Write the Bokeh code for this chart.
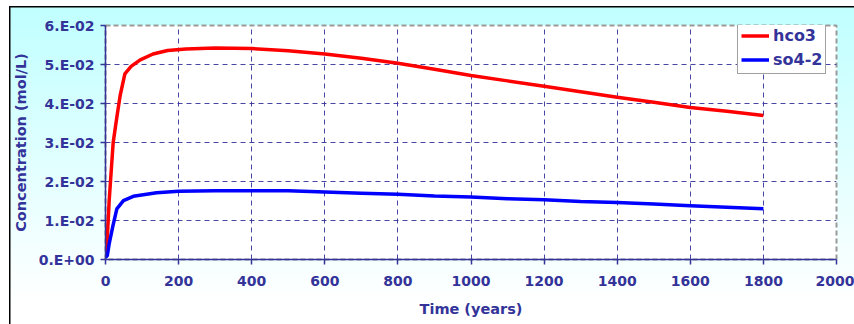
from bokeh.plotting import figure
from bokeh.models import FixedTicker, Legend, LegendItem, Range1d
from bokeh.embed import file_html
from bokeh.resources import INLINE

# ---- data ----
hco3_t = [0, 3, 10, 21, 31, 40, 53, 70, 95, 130, 170, 220, 300, 400, 500, 600, 700,
          800, 900, 1000, 1100, 1200, 1300, 1400, 1500, 1600, 1700, 1800]
hco3_c = [0.0008, 0.002, 0.015, 0.030, 0.0365, 0.042, 0.0476, 0.0495, 0.0512, 0.0527,
          0.0536, 0.0540, 0.0542, 0.0541, 0.0535, 0.0527, 0.0516, 0.0503, 0.0488, 0.0472,
          0.0458, 0.0444, 0.0430, 0.0416, 0.0403, 0.0390, 0.0380, 0.0369]

so4_t = [0, 5, 10, 20, 31, 49, 76, 140, 200, 300, 400, 500, 600, 700, 800, 900, 1000,
         1100, 1200, 1300, 1400, 1500, 1600, 1700, 1800]
so4_c = [0.0005, 0.001, 0.004, 0.0085, 0.0130, 0.0151, 0.0162, 0.0171, 0.0175, 0.0176,
         0.0176, 0.0176, 0.0173, 0.0170, 0.0167, 0.0163, 0.0160, 0.0156, 0.0153, 0.0149,
         0.0146, 0.0142, 0.0138, 0.0134, 0.0130]

x_ticks = [0, 200, 400, 600, 800, 1000, 1200, 1400, 1600, 1800, 2000]
y_ticks = [0.0, 0.01, 0.02, 0.03, 0.04, 0.05, 0.06]
y_tick_labels = ["0.E+00", "1.E-02", "2.E-02", "3.E-02", "4.E-02", "5.E-02", "6.E-02"]

series_names = ["hco3", "so4-2"]

NAVY = "#333399"
FONT = "DejaVu Sans"

p = figure(width=854, height=324, output_backend="svg", toolbar_location=None,
           x_range=Range1d(0, 2000), y_range=Range1d(0, 0.06),
           min_border_left=105, min_border_right=18, min_border_top=25,
           min_border_bottom=65)

p.border_fill_color = None
p.background_fill_color = "white"
p.styles = {
    "background": (
        "linear-gradient(#000000, #000000) 9px 6px / 100% 1.5px no-repeat, "
        "linear-gradient(#000000, #000000) 9px 6px / 1.5px 100% no-repeat, "
        "linear-gradient(to bottom, #c0ffff 0%, #e6ffff 55%, #ffffff 92%) 9px 6px / 100% 100% no-repeat, "
        "#ffffff"
    )
}

p.outline_line_color = "#9a9a9a"
p.outline_line_dash = "5 3"
p.outline_line_width = 2

r1 = p.line(hco3_t, hco3_c, line_color="#ff0000", line_width=3.5)
r2 = p.line(so4_t, so4_c, line_color="#0000ff", line_width=3.5)

p.xaxis.ticker = FixedTicker(ticks=x_ticks)
p.yaxis.ticker = FixedTicker(ticks=y_ticks)
p.yaxis.major_label_overrides = {v: s for v, s in zip(y_ticks, y_tick_labels)}

for ax in (p.xaxis[0], p.yaxis[0]):
    ax.axis_line_color = NAVY
    ax.axis_line_width = 1.5
    ax.major_tick_line_color = NAVY
    ax.major_tick_line_width = 1.5
    ax.major_tick_out = 5
    ax.major_tick_in = 0
    ax.minor_tick_line_color = None
    ax.major_label_text_color = NAVY
    ax.major_label_text_font = FONT
    ax.major_label_text_font_style = "bold"
    ax.major_label_text_font_size = "14px"
    ax.axis_label_text_color = NAVY
    ax.axis_label_text_font = FONT
    ax.axis_label_text_font_style = "bold"
    ax.axis_label_text_font_size = "14.5px"

p.xaxis.axis_label = "Time (years)"
p.yaxis.axis_label = "Concentration (mol/L)"
p.xaxis.major_label_standoff = 11
p.yaxis.major_label_standoff = 6
p.xaxis.axis_label_standoff = 12
p.yaxis.axis_label_standoff = 7

p.grid.grid_line_color = NAVY
p.grid.grid_line_dash = "5 4"
p.grid.grid_line_width = 1
p.grid.grid_line_alpha = 0.9

legend = Legend(items=[LegendItem(label=series_names[0], renderers=[r1]),
                       LegendItem(label=series_names[1], renderers=[r2])],
                location=(632, 185))
legend.label_text_font = FONT
legend.label_text_font_style = "bold"
legend.label_text_font_size = "16px"
legend.label_text_color = NAVY
legend.glyph_width = 28
legend.glyph_height = 21
legend.label_height = 21
legend.label_standoff = 4
legend.spacing = 3
legend.padding = 3
legend.margin = 0
legend.border_line_color = "#444444"
legend.border_line_width = 1.5
legend.background_fill_color = "white"
legend.background_fill_alpha = 1
p.add_layout(legend, "center")

open("out.html", "w").write(file_html(p, INLINE))
